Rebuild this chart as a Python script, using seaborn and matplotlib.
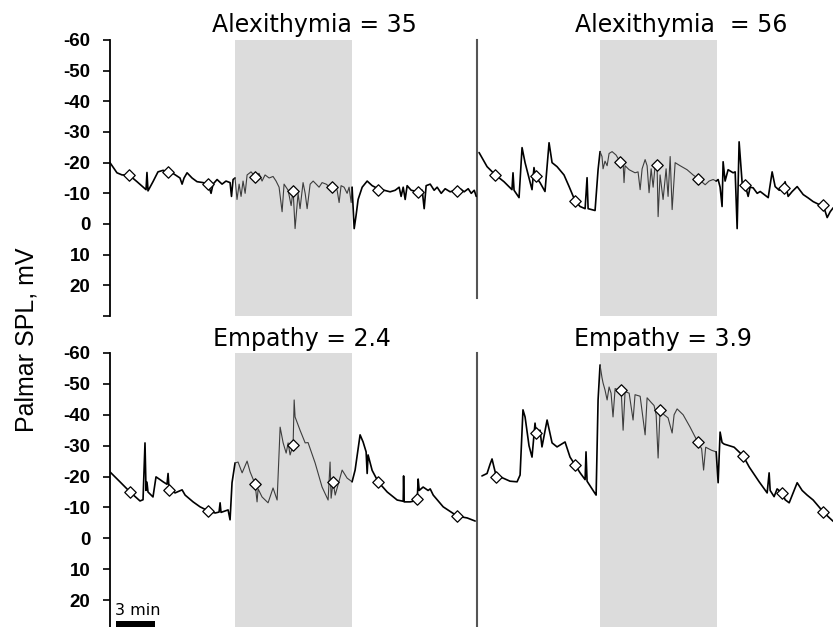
import numpy as np
import matplotlib
matplotlib.use("Agg")
import matplotlib.pyplot as plt
import seaborn as sns
from matplotlib.patches import Rectangle

# ---- recording layout (minutes) ----
X_MAX = 28.0
SHADE_START, SHADE_END = 9.5, 18.5
SCALE_BAR_MIN = 3.0

TITLES = ["Alexithymia = 35", "Alexithymia  = 56", "Empathy = 2.4", "Empathy = 3.9"]
Y_TICKS = [-60, -50, -40, -30, -20, -10, 0, 10, 20, 30]
Y_TICK_LABELS = ["-60", "-50", "-40", "-30", "-20", "-10", "0", "10", "20", ""]
Y_LABEL = "Palmar SPL, mV"

# ---- palmar SPL traces: (time in min, potential in mV) ----
trace_alex_35 = [
    (0.00, -20.0), (0.53, -16.7), (0.92, -16.0), (1.45, -16.0), (2.06, -13.8), (2.75, -11.2),
    (2.82, -16.8), (2.90, -10.8), (3.28, -13.8), (3.66, -17.0), (4.05, -17.5), (4.43, -17.0),
    (4.81, -16.5), (5.34, -15.0), (5.50, -13.0), (5.65, -15.0), (5.88, -16.7), (6.26, -15.0),
    (6.64, -13.8), (7.10, -13.5), (7.48, -13.0), (7.71, -10.0), (7.86, -13.0), (8.17, -14.5),
    (8.55, -13.0), (8.85, -14.0), (9.16, -13.5), (9.27, -9.0), (9.39, -14.5), (9.54, -15.0),
    (9.69, -8.0), (9.85, -13.0), (10.00, -9.0), (10.15, -14.0), (10.31, -10.0), (10.46, -16.0),
    (10.76, -17.0), (11.07, -15.5), (11.37, -16.5), (11.60, -14.0), (11.83, -16.0), (12.14, -15.0),
    (12.44, -15.5), (12.67, -14.0), (12.90, -12.0), (13.13, -4.0), (13.28, -13.0), (13.59, -11.0),
    (13.82, -6.0), (13.97, -11.0), (14.12, 1.5), (14.35, -10.0), (14.50, -5.0), (14.73, -13.5),
    (14.89, -10.0), (15.04, -5.0), (15.27, -13.0), (15.50, -14.0), (15.73, -13.0), (15.95, -12.0),
    (16.18, -13.5), (16.49, -13.0), (16.79, -12.0), (17.10, -12.5), (17.33, -11.0), (17.48, -7.0),
    (17.63, -12.5), (17.86, -12.0), (18.09, -10.0), (18.24, -12.0), (18.40, -7.0), (18.47, -12.0),
    (18.63, 1.5), (18.78, -3.0), (18.93, -8.0), (19.24, -12.0), (19.62, -14.0), (20.00, -12.5),
    (20.46, -11.5), (20.92, -11.0), (21.37, -10.5), (21.76, -11.0), (22.06, -12.0), (22.21, -9.0),
    (22.37, -12.0), (22.52, -8.0), (22.67, -12.5), (22.98, -11.0), (23.51, -10.5), (23.82, -11.0),
    (23.97, -5.0), (24.12, -12.5), (24.43, -13.0), (24.73, -11.0), (24.96, -12.0), (25.27, -10.0),
    (25.57, -11.5), (25.95, -10.5), (26.34, -11.0), (26.72, -11.5), (27.02, -10.5), (27.33, -11.5),
    (27.56, -10.0), (27.79, -11.0), (27.94, -9.0),
]
trace_alex_56 = [
    (0.31, -23.3), (0.92, -18.7), (1.53, -16.1), (2.21, -13.8), (2.82, -11.2), (2.90, -16.7),
    (2.98, -11.0), (3.36, -8.6), (3.59, -24.9), (3.82, -20.0), (4.35, -11.2), (4.50, -18.4),
    (4.62, -15.5), (4.96, -13.5), (5.34, -10.6), (5.65, -26.5), (5.88, -20.0), (6.26, -18.7),
    (6.79, -16.0), (7.18, -12.2), (7.63, -7.6), (8.02, -5.7), (8.40, -5.0), (8.55, -15.1),
    (8.63, -5.0), (9.16, -4.4), (9.39, -17.7), (9.54, -23.6),
    (9.69, -22.0), (9.77, -18.0), (9.92, -20.5), (10.08, -19.0), (10.23, -23.0), (10.46, -23.6),
    (10.76, -22.5), (11.07, -20.3), (11.30, -20.0), (11.37, -13.5), (11.45, -19.0), (11.76, -17.7),
    (12.21, -16.7), (12.44, -17.0), (12.60, -11.2), (12.75, -18.0), (12.98, -21.0), (13.13, -19.0),
    (13.28, -10.2), (13.44, -18.0), (13.59, -12.0), (13.74, -19.0), (13.89, -19.3), (13.97, -2.4),
    (14.12, -16.0), (14.35, -8.0), (14.58, -18.0), (14.73, -9.0), (14.89, -22.0), (15.04, -4.7),
    (15.27, -20.0), (15.65, -19.0), (16.18, -17.7), (16.64, -16.0), (17.02, -14.8), (17.56, -12.8),
    (17.86, -14.0), (18.17, -14.5), (18.40, -14.0), (18.55, -14.5),
    (18.70, -12.0), (18.85, -5.7), (18.93, -20.3), (19.08, -14.0), (19.31, -17.7), (19.69, -16.7),
    (19.85, -17.0), (20.00, 1.5), (20.15, -26.8), (20.38, -13.5), (20.61, -12.8), (20.84, -9.0),
    (20.99, -12.0), (21.22, -11.8), (21.53, -10.0), (21.76, -10.6), (22.37, -8.6), (22.67, -17.0),
    (22.90, -12.2), (23.21, -11.0), (23.51, -11.8), (23.66, -13.8), (23.89, -9.0), (24.20, -10.6),
    (24.58, -12.2), (25.04, -9.6), (25.42, -8.5), (25.80, -7.3), (26.18, -6.5), (26.56, -6.2),
    (26.87, -2.1), (27.10, -4.0), (27.33, -5.3),
]
trace_emp_24 = [
    (0.00, -21.5), (0.76, -18.3), (1.53, -15.0), (2.29, -12.1), (2.52, -12.5), (2.67, -30.9),
    (2.75, -15.5), (2.82, -18.2), (2.90, -15.0), (3.28, -13.4), (3.51, -19.9), (3.82, -19.0),
    (4.05, -18.3), (4.35, -17.5), (4.43, -21.0), (4.50, -16.5), (4.96, -14.7), (5.50, -15.7),
    (5.73, -14.0), (6.34, -11.8), (6.87, -10.2), (7.48, -8.9), (8.02, -8.2), (8.32, -8.5),
    (8.40, -11.5), (8.47, -8.4), (9.01, -9.2), (9.16, -6.0), (9.31, -18.0), (9.54, -24.4),
    (9.77, -24.7), (10.08, -21.2), (10.46, -25.0), (10.69, -21.5), (11.07, -17.6), (11.22, -11.8),
    (11.30, -16.0), (11.60, -13.4), (12.06, -11.5), (12.44, -16.3), (12.75, -12.4), (12.98, -36.0),
    (13.21, -30.9), (13.44, -27.6), (13.59, -30.9), (13.74, -27.0), (13.97, -30.2), (14.05, -44.8),
    (14.12, -39.3), (14.50, -35.0), (14.89, -30.9), (15.11, -31.0), (15.65, -24.4), (16.18, -16.6),
    (16.64, -12.4), (16.79, -24.7), (16.87, -13.0), (17.02, -18.3), (17.18, -14.0), (17.71, -22.1),
    (18.09, -19.5), (18.47, -18.3),
    (18.70, -22.1), (19.08, -33.5), (19.31, -31.2), (19.54, -28.0), (19.62, -21.0), (19.69, -27.0),
    (20.00, -22.0), (20.46, -18.3), (21.15, -15.0), (21.91, -12.4), (22.37, -12.0), (22.40, -20.2),
    (22.44, -11.8), (22.90, -11.8), (23.44, -12.3), (23.51, -19.2), (23.59, -15.5), (23.89, -16.6),
    (24.27, -15.5), (24.43, -16.0), (24.66, -14.0), (25.42, -10.2), (26.49, -7.2), (27.25, -6.6),
    (27.86, -5.6),
]
trace_emp_39 = [
    (0.53, -20.2), (0.92, -21.0), (1.15, -24.0), (1.30, -25.7), (1.45, -23.0), (1.60, -20.5),
    (2.14, -19.5), (2.67, -18.5), (3.21, -18.3), (3.44, -20.5), (3.66, -41.6), (3.82, -39.3),
    (4.12, -30.0), (4.35, -26.3), (4.58, -37.3), (4.66, -34.1), (4.96, -35.0), (5.11, -29.6),
    (5.50, -38.3), (5.88, -30.9), (6.26, -29.6), (6.87, -31.2), (7.25, -26.3), (7.63, -23.8),
    (8.02, -21.2), (8.40, -19.0), (8.47, -28.0), (8.55, -18.5), (9.16, -14.5), (9.24, -14.0),
    (9.39, -44.8), (9.54, -56.1),
    (9.69, -52.0), (9.77, -50.3), (9.92, -48.0), (10.08, -44.8), (10.23, -49.0), (10.38, -47.0),
    (10.53, -39.3), (10.69, -48.5), (10.92, -48.0), (11.15, -48.0), (11.30, -35.0), (11.45, -47.5),
    (11.76, -47.0), (12.06, -38.3), (12.21, -46.5), (12.60, -46.0), (12.98, -33.5), (13.13, -45.5),
    (13.44, -44.0), (13.66, -43.0), (13.82, -40.0), (13.97, -26.0), (14.12, -41.6), (14.43, -40.0),
    (14.73, -39.0), (15.04, -34.1), (15.19, -40.0), (15.42, -41.9), (15.88, -40.0), (16.41, -36.0),
    (16.99, -31.2), (17.29, -29.0), (17.44, -22.1), (17.60, -29.5), (18.05, -28.5), (18.40, -28.0),
    (18.55, -18.0),
    (18.70, -34.4), (18.85, -31.0), (19.01, -30.5), (19.24, -30.2), (19.77, -29.5), (20.46, -26.7),
    (20.92, -23.1), (21.68, -18.3), (22.29, -14.7), (22.44, -21.2), (22.52, -15.5), (22.82, -13.5),
    (23.05, -16.0), (23.44, -14.7), (23.66, -12.5), (23.97, -11.5), (24.58, -18.0), (24.96, -15.5),
    (25.34, -14.0), (25.80, -12.4), (26.18, -10.5), (26.56, -8.6), (26.95, -7.0), (27.33, -5.5),
]

# ---- 3-min sample markers (time in min, mV) ----
marks_alex_35_t = [1.45, 4.43, 7.48, 11.07, 13.97, 16.95, 20.46, 23.51, 26.49]
marks_alex_35_v = [-16.0, -17.0, -13.0, -15.3, -10.6, -12.0, -11.0, -10.3, -10.6]
marks_alex_56_t = [1.53, 4.62, 7.63, 11.07, 13.89, 17.02, 20.61, 23.60, 26.56]
marks_alex_56_v = [-16.0, -15.5, -7.4, -20.3, -19.2, -14.8, -12.7, -11.8, -6.2]
marks_emp_24_t = [1.53, 4.50, 7.48, 11.07, 13.97, 17.02, 20.46, 23.46, 26.49]
marks_emp_24_v = [-15.0, -15.7, -8.9, -17.6, -30.2, -18.3, -18.3, -12.8, -7.2]
marks_emp_39_t = [1.60, 4.62, 7.63, 11.15, 14.12, 16.99, 20.46, 23.44, 26.56]
marks_emp_39_v = [-20.0, -34.1, -23.8, -48.0, -41.6, -31.2, -26.7, -14.7, -8.6]

panels = [
    (trace_alex_35, marks_alex_35_t, marks_alex_35_v),
    (trace_alex_56, marks_alex_56_t, marks_alex_56_v),
    (trace_emp_24, marks_emp_24_t, marks_emp_24_v),
    (trace_emp_39, marks_emp_39_t, marks_emp_39_v),
]

sns.set_theme(style="white")
plt.rcParams["font.family"] = ["DejaVu Sans"]

W, H = 833, 627
fig = plt.figure(figsize=(W / 100, H / 100), dpi=100)


def px_box(left, top, width, height):
    return [left / W, 1 - (top + height) / H, width / W, height / H]


ax_tl = fig.add_axes(px_box(110, 40, 367, 276))
ax_tr = fig.add_axes(px_box(475, 40, 367, 276))
ax_bl = fig.add_axes(px_box(110, 353, 367, 278))
ax_br = fig.add_axes(px_box(475, 353, 367, 278))
axes = [ax_tl, ax_tr, ax_bl, ax_br]

LINE_OUT = dict(color="black", linewidth=1.2)
LINE_IN = dict(color="#3d3d3d", linewidth=0.8)


def draw_trace(ax, trace):
    t = np.array([p[0] for p in trace])
    v = np.array([p[1] for p in trace])
    i0 = int(np.searchsorted(t, SHADE_START))
    i1 = int(np.searchsorted(t, SHADE_END, side="right")) - 1
    for sl, style in ((slice(0, i0 + 1), LINE_OUT),
                      (slice(i0, i1 + 1), LINE_IN),
                      (slice(i1, None), LINE_OUT)):
        sns.lineplot(x=t[sl], y=v[sl], ax=ax, estimator=None, sort=False,
                     zorder=3, **style)


for ax, (trace, mt, mv) in zip(axes, panels):
    ax.set_xlim(0, X_MAX)
    ax.set_ylim(30, -60)
    ax.axvspan(SHADE_START, SHADE_END, color="#dcdcdc", lw=0, zorder=0)
    draw_trace(ax, trace)
    sns.scatterplot(x=mt, y=mv, ax=ax, marker="D", s=34, color="white",
                    edgecolor="black", linewidth=0.9, zorder=5)
    ax.set_xticks([])
    ax.set_xlabel("")
    ax.set_ylabel("")
    for side in ("top", "bottom"):
        ax.spines[side].set_visible(False)
    ax.set_facecolor("none")

for ax in (ax_tl, ax_bl):
    ax.spines["left"].set_color("black")
    ax.spines["left"].set_linewidth(1.3)
    ax.set_yticks(Y_TICKS)
    ax.set_yticklabels(Y_TICK_LABELS, family="Liberation Sans",
                       fontweight="bold", fontsize=13.5)
    ax.tick_params(axis="y", direction="out", length=5, width=1.2, pad=9,
                   left=True, colors="black")
    # divider between the two subjects
    ax.spines["right"].set_visible(True)
    ax.spines["right"].set_color("#555555")
    ax.spines["right"].set_linewidth(1.5)
ax_tl.spines["right"].set_bounds(-60, 24)

for ax in (ax_tr, ax_br):
    ax.spines["left"].set_visible(False)
    ax.spines["right"].set_visible(False)
    ax.set_yticks([])

# panel titles
title_pos = [(314, 32), (681, 32), (302, 346), (663, 346)]
for text, (x, y) in zip(TITLES, title_pos):
    fig.text(x / W, 1 - y / H, text, ha="center", va="baseline",
             fontsize=17, family="DejaVu Sans", color="black")

fig.text(27 / W, 1 - 340 / H, Y_LABEL, rotation=90, ha="center", va="center",
         fontsize=18, family="Liberation Sans", color="black")

# time scale bar
bar_x0 = 0.46
ax_bl.add_patch(Rectangle((bar_x0, 26.8), SCALE_BAR_MIN, 5, color="black",
                          lw=0, clip_on=False, zorder=6))
fig.text(115 / W, 1 - 615 / H, f"{SCALE_BAR_MIN:.0f} min", ha="left",
         va="baseline", fontsize=11.5, family="DejaVu Sans", color="black")

fig.savefig("out.png", dpi=100, facecolor="white")
